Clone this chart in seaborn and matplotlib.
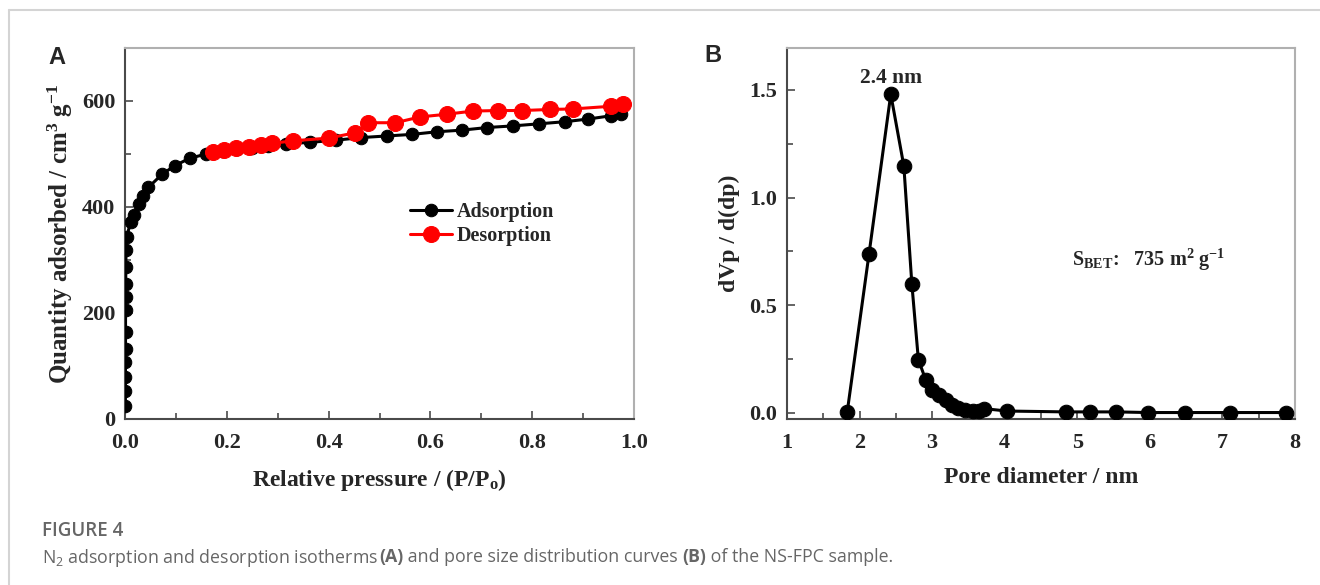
import numpy as np
import pandas as pd
import matplotlib
matplotlib.use("Agg")
import matplotlib.pyplot as plt
from matplotlib.lines import Line2D
from matplotlib.ticker import MultipleLocator
import seaborn as sns

# ---------------- data ----------------
ads_p = [0.0008, 0.0008, 0.0009, 0.0009, 0.0010, 0.0010, 0.0011, 0.0012, 0.0014, 0.0016, 0.0020, 0.0030,
         0.011, 0.017, 0.027, 0.036, 0.046, 0.073, 0.098, 0.127, 0.160,
         0.19, 0.22, 0.25, 0.28,
         0.317, 0.363, 0.414, 0.464, 0.514, 0.564, 0.613, 0.662, 0.712, 0.762,
         0.814, 0.865, 0.910, 0.954, 0.975]
ads_q = [24, 52, 80, 108, 133, 165, 205, 230, 255, 287, 318, 343,
         371, 384, 406, 421, 437, 462, 478, 492, 500,
         505, 509, 512, 515,
         519, 522, 526, 531, 534, 537, 542, 545, 550, 553,
         557, 561, 566, 572, 576]
des_p = [0.978, 0.954, 0.880, 0.834, 0.780, 0.733, 0.683, 0.632, 0.580, 0.531,
         0.478, 0.452, 0.400, 0.331, 0.288, 0.267, 0.243, 0.218, 0.195, 0.172]
des_q = [595, 590, 585, 584, 582, 582, 581, 575, 570, 559,
         559, 540, 530, 525, 520, 517, 514, 511, 507, 503]

pore_d = [1.83, 2.13, 2.43, 2.61, 2.72, 2.81, 2.91, 3.00, 3.10, 3.19, 3.28, 3.36,
          3.45, 3.56, 3.64, 3.72, 4.03, 4.84, 5.17, 5.54, 5.97, 6.48, 7.10, 7.87]
dvdp = [0.005, 0.738, 1.48, 1.147, 0.601, 0.248, 0.155, 0.105, 0.082, 0.059, 0.036, 0.023,
        0.012, 0.008, 0.008, 0.020, 0.009, 0.005, 0.005, 0.005, 0.002, 0.002, 0.002, 0.002]

xticks_a = [0.0, 0.2, 0.4, 0.6, 0.8, 1.0]
yticks_a = [0, 200, 400, 600]
xticks_b = [1, 2, 3, 4, 5, 6, 7, 8]
yticks_b = [0.0, 0.5, 1.0, 1.5]

# ---------------- style ----------------
sns.set_theme(style="white")
plt.rcParams["font.family"] = ["Liberation Serif", "DejaVu Serif"]
plt.rcParams["mathtext.fontset"] = "custom"
plt.rcParams["mathtext.rm"] = "Liberation Serif:bold"
plt.rcParams["mathtext.it"] = "Liberation Serif:bold"
plt.rcParams["mathtext.bf"] = "Liberation Serif:bold"
plt.rcParams["mathtext.default"] = "regular"

W, H = 1320, 585
fig = plt.figure(figsize=(W / 100, H / 100), dpi=100)
fig.patch.set_facecolor("white")

def px_axes(x0, y0, x1, y1):
    return fig.add_axes([x0 / W, 1 - y1 / H, (x1 - x0) / W, (y1 - y0) / H])

axA = px_axes(125, 48, 634, 419)
axB = px_axes(787, 48, 1295, 419)

spine_dark = "#4a4a4a"
spine_light = "#b0b0b0"
tick_font = dict(family="Liberation Serif", weight="bold", size=16)
label_font = dict(family="Liberation Serif", weight="bold", size=17)

for ax in (axA, axB):
    ax.set_facecolor("white")
    for s in ("left", "bottom"):
        ax.spines[s].set_color(spine_dark)
        ax.spines[s].set_linewidth(1.5)
    for s in ("top", "right"):
        ax.spines[s].set_color(spine_light)
        ax.spines[s].set_linewidth(1.5)
    ax.tick_params(which="both", direction="in", color=spine_dark, width=1.2,
                   top=False, right=False, left=True, bottom=True)
    ax.tick_params(which="major", length=6)
    ax.tick_params(axis="x", which="major", pad=10)
    ax.tick_params(axis="y", which="major", pad=7)
    ax.tick_params(which="minor", length=4)
    ax.grid(False)

# ---------------- panel A ----------------
dfA = pd.DataFrame({"p": ads_p, "q": ads_q})
dfD = pd.DataFrame({"p": des_p, "q": des_q})
sns.lineplot(data=dfA, x="p", y="q", ax=axA, color="black", marker="o", markersize=9,
             markeredgecolor="black", linewidth=2.2, sort=False, estimator=None,
             label="Adsorption", zorder=3)
sns.lineplot(data=dfD, x="p", y="q", ax=axA, color="#ff0000", marker="o", markersize=11.5,
             markeredgecolor="#ff0000", linewidth=2.2, sort=False, estimator=None,
             label="Desorption", zorder=4)
axA.set_xlim(0, 1.0)
axA.set_ylim(0, 700)
axA.set_xticks(xticks_a)
axA.set_xticklabels([f"{v:.1f}" for v in xticks_a], fontdict=tick_font)
axA.set_yticks(yticks_a)
axA.set_yticklabels([str(v) for v in yticks_a], fontdict=tick_font)
axA.xaxis.set_minor_locator(MultipleLocator(0.1))
axA.yaxis.set_minor_locator(MultipleLocator(100))
axA.set_xlabel(r"Relative pressure / (P/P$_{o}$)", fontdict=label_font, labelpad=10)
axA.set_ylabel(r"Quantity adsorbed / cm$^{3}$ g$^{-1}$",
               fontdict=dict(label_font, size=18), labelpad=5)
leg = axA.legend(loc="upper left", bbox_to_anchor=(0.56, 0.585), frameon=False,
                 prop=dict(family="Liberation Serif", weight="bold", size=14.5),
                 handlelength=2.1, handletextpad=0.2, labelspacing=0.2,
                 borderaxespad=0, borderpad=0)

# ---------------- panel B ----------------
dfB = pd.DataFrame({"d": pore_d, "v": dvdp})
sns.lineplot(data=dfB, x="d", y="v", ax=axB, color="black", marker="o", markersize=10.5,
             markeredgecolor="black", linewidth=2.2, sort=False, estimator=None,
             legend=False, zorder=3)
axB.set_xlim(1, 8)
axB.set_ylim(-0.028, 1.695)
axB.set_xticks(xticks_b)
axB.set_xticklabels([str(v) for v in xticks_b], fontdict=tick_font)
axB.set_yticks(yticks_b)
axB.set_yticklabels([f"{v:.1f}" for v in yticks_b], fontdict=tick_font)
axB.xaxis.set_minor_locator(MultipleLocator(0.5))
axB.yaxis.set_minor_locator(MultipleLocator(0.25))
axB.set_xlabel("Pore diameter / nm", fontdict=label_font, labelpad=10)
axB.set_ylabel("dVp / d(dp)", fontdict=label_font, labelpad=7)
peak_i = int(np.argmax(dvdp))
axB.annotate(f"{pore_d[peak_i]:.1f} nm", xy=(pore_d[peak_i], dvdp[peak_i]),
             xytext=(0, 12), textcoords="offset points", ha="center", va="center",
             fontfamily="Liberation Serif", fontweight="bold", fontsize=15.5)
axB.text(4.93, 0.71, r"S$_{\mathregular{BET}}$:   735 m$^{2}$ g$^{-1}$",
         ha="left", va="center", fontfamily="Liberation Serif", fontweight="bold", fontsize=14.5)

# ---------------- panel letters ----------------
fig.text(57 / W, 1 - 57 / H, "A", ha="center", va="center",
         fontfamily="Liberation Sans", fontweight="bold", fontsize=17)
fig.text(713 / W, 1 - 55 / H, "B", ha="center", va="center",
         fontfamily="Liberation Sans", fontweight="bold", fontsize=17)

# ---------------- frame ----------------
fig.add_artist(Line2D([9 / W, 9 / W], [0, 1 - 10 / H], transform=fig.transFigure,
                      color="#d4d4d4", linewidth=1.5))
fig.add_artist(Line2D([9 / W, 1], [1 - 10 / H, 1 - 10 / H], transform=fig.transFigure,
                      color="#d4d4d4", linewidth=1.5))

# ---------------- caption ----------------
cap_color = "#666666"
fig.text(42 / W, 1 - 531 / H, "FIGURE 4", ha="left", va="center",
         fontfamily="Open Sans", fontweight="semibold", fontsize=13.5, color=cap_color)

pieces = [("N$_2$ adsorption and desorption isotherms ", "normal"),
          ("(A)", "bold"),
          (" and pore size distribution curves ", "normal"),
          ("(B)", "bold"),
          (" of the NS-FPC sample.", "normal")]
fig.canvas.draw()
renderer = fig.canvas.get_renderer()
x = 42
for txt, wt in pieces:
    t = fig.text(x / W, 1 - 555 / H, txt, ha="left", va="center_baseline",
                 fontfamily=["Open Sans", "DejaVu Sans"], fontweight=wt,
                 fontsize=12.8, color=cap_color)
    t.set_math_fontfamily("dejavusans")
    bb = t.get_window_extent(renderer=renderer)
    x += bb.width

fig.savefig("out.png", dpi=100, facecolor="white")
